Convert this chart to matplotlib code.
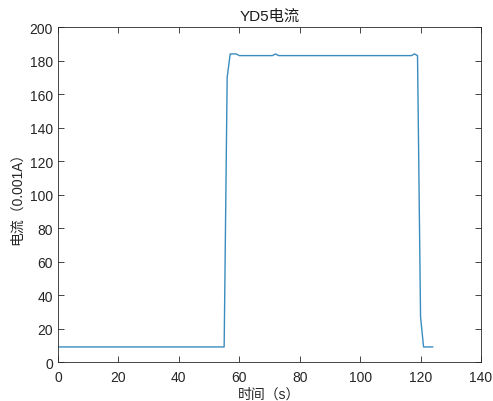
import matplotlib
matplotlib.use('Agg')
import matplotlib.pyplot as plt

plt.rcParams['font.family'] = ['Liberation Sans', 'Noto Sans CJK SC', 'DejaVu Sans']

# sampled current, one point per second
time_s = list(range(0, 125))
current = ([9] * 56 + [170, 184, 184, 184]
           + [183] * 12 + [184] + [183] * 45 + [184, 183, 27, 9, 9, 9, 9])

fig = plt.figure(figsize=(4.93, 4.02), dpi=100)
ax = fig.add_axes([0.1176, 0.097, 0.858, 0.833])
ax.plot(time_s[:len(current)], current, color='#3a8cbf', linewidth=1.0)

ax.set_xlim(0, 140)
ax.set_ylim(0, 200)
ax.set_xticks(range(0, 141, 20))
ax.set_yticks(range(0, 201, 20))
ax.tick_params(direction='in', top=True, right=True, length=4, labelsize=10,
               colors='#262626', width=0.6)
ax.tick_params(axis='x', pad=6)
for s in ax.spines.values():
    s.set_color('#262626')
    s.set_linewidth(0.6)

ax.set_title('YD5电流', fontsize=11, color='#1a1a1a', pad=5)
ax.set_xlabel('时间（s）', fontsize=10, color='#262626', labelpad=2)
ax.set_ylabel('电流（0.001A）', fontsize=10, color='#262626')

fig.savefig('out.png', dpi=100, facecolor='white')
